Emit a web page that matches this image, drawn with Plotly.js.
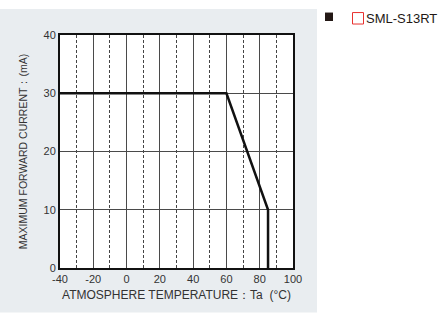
<!DOCTYPE html>
<html>
<head>
<meta charset="utf-8">
<script src="https://cdn.plot.ly/plotly-3.0.1.min.js"></script>
<style>html,body{margin:0;padding:0;background:#fff;}#chart{width:438px;height:314px;}</style>
</head>
<body>
<div id="chart"></div>
<script>
// Data
const temperature = [-40, 60, 85, 85];
const maxCurrent = [30, 30, 10, 0];
const xTicks = [-40, -20, 0, 20, 40, 60, 80, 100];
const yTicks = [0, 10, 20, 30, 40];
const seriesName = "SML-S13RT";

const L = 60, R = 293, T = 35, B = 268.5, W = 438, H = 314;
const pw = R - L, ph = B - T;
const px = v => (v - L) / pw;
const py = v => (B - v) / ph;

const font = {family: "Liberation Sans, Arial, sans-serif", color: "#333333"};

const trace = {
  x: temperature, y: maxCurrent, type: "scatter", mode: "lines",
  name: seriesName, showlegend: false,
  line: {color: "#111111", width: 2.5}, cliponaxis: false
};

const layout = {
  width: W, height: H,
  margin: {l: L, r: W - R, t: T, b: H - B, pad: 0},
  paper_bgcolor: "#ffffff", plot_bgcolor: "#ffffff",
  showlegend: false,
  font: font,
  xaxis: {
    range: [-40, 100], tickvals: xTicks, ticktext: xTicks.map(String),
    showgrid: true, gridcolor: "#4a4a4a", gridwidth: 1,
    minor: {dtick: 10, tick0: 0, showgrid: true, gridcolor: "#444444", gridwidth: 1, griddash: "3px,2px", ticks: ""},
    showline: true, linecolor: "#111111", linewidth: 2, mirror: true,
    zeroline: false, ticks: "", tickfont: {size: 11, family: font.family, color: "#333"},
    title: {text: "ATMOSPHERE TEMPERATURE：Ta  (°C)", font: {size: 12, family: font.family, color: "#333"}, standoff: 6},
    automargin: false, fixedrange: true
  },
  yaxis: {
    range: [0, 40], tickvals: yTicks, ticktext: yTicks.map(String),
    showgrid: true, gridcolor: "#4a4a4a", gridwidth: 1,
    showline: true, linecolor: "#111111", linewidth: 2, mirror: true,
    zeroline: false, ticks: "", tickfont: {size: 11, family: font.family, color: "#333"},
    title: {text: "MAXIMUM FORWARD CURRENT：(mA)", font: {size: 10.5, family: font.family, color: "#333"}, standoff: 14},
    automargin: false, fixedrange: true
  },
  shapes: [
    {type: "rect", xref: "paper", yref: "paper", layer: "below",
     x0: px(0), x1: px(317), y0: py(313), y1: py(9),
     fillcolor: "#e9edf0", line: {width: 0}},
    {type: "rect", xref: "paper", yref: "paper", layer: "below",
     x0: 0, x1: 1, y0: 0, y1: 1, fillcolor: "#ffffff", line: {width: 0}},
    {type: "rect", xref: "paper", yref: "paper",
     x0: px(325), x1: px(333), y0: py(21), y1: py(12.5),
     fillcolor: "#231815", line: {width: 0}},
    {type: "rect", xref: "paper", yref: "paper",
     x0: px(352.5), x1: px(363.5), y0: py(24), y1: py(12.5),
     fillcolor: "rgba(0,0,0,0)", line: {color: "#e8312f", width: 1}}
  ],
  annotations: [
    {text: seriesName, xref: "paper", yref: "paper", x: px(363.5), y: py(18.5),
     xanchor: "left", yanchor: "middle", showarrow: false,
     font: {size: 13, family: font.family, color: "#231815"}}
  ]
};

Plotly.newPlot("chart", [trace], layout, {displayModeBar: false, staticPlot: true});
</script>
</body>
</html>
